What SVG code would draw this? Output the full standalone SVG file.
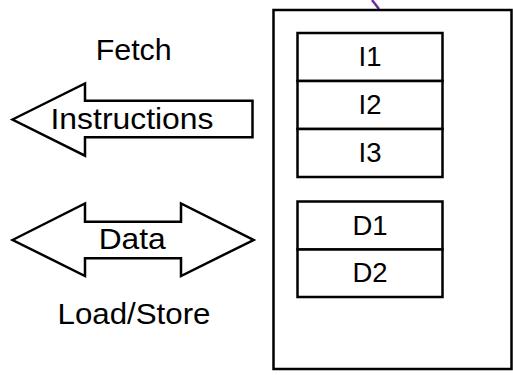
<svg xmlns="http://www.w3.org/2000/svg" width="513" height="375" viewBox="0 0 513 375">
<style>
.s{fill:#fff;stroke:#000;stroke-width:2.5;stroke-linejoin:miter}
.t{font-family:"Liberation Sans",Arial,Helvetica,sans-serif;fill:#000;text-anchor:middle}
.big{font-size:30px}
.cell{font-size:27.5px}
</style>
<rect width="513" height="375" fill="#fff"/>
<g id="connectors">
<line x1="372" y1="0" x2="379" y2="9" stroke="#6a2ca8" stroke-width="2.5"/>
</g>
<g id="memory">
<rect class="s" x="273.5" y="10" width="238" height="359"/>
</g>
<g id="I1"><rect class="s" x="297.5" y="33" width="145" height="48"/><text class="t cell" x="370" y="66">I1</text></g>
<g id="I2"><rect class="s" x="297.5" y="81" width="145" height="48"/><text class="t cell" x="370" y="114">I2</text></g>
<g id="I3"><rect class="s" x="297.5" y="129" width="145" height="48"/><text class="t cell" x="370" y="162">I3</text></g>
<g id="D1"><rect class="s" x="297.5" y="201.5" width="145" height="48"/><text class="t cell" x="370" y="234.5">D1</text></g>
<g id="D2"><rect class="s" x="297.5" y="249.5" width="145" height="47.5"/><text class="t cell" x="370" y="282">D2</text></g>
<g id="instructions">
<polygon class="s" points="12.5,119.5 85,83.5 85,100.7 252.5,100.7 252.5,137.3 85,137.3 85,155.7"/>
<text class="t big" x="132" y="128.5" textLength="163" lengthAdjust="spacingAndGlyphs">Instructions</text>
</g>
<g id="data">
<polygon class="s" points="12.5,240 85,203.5 85,221.7 181,221.7 181,203.5 253.5,240 181,276 181,258.3 85,258.3 85,276"/>
<text class="t big" x="132.2" y="248.5" textLength="67" lengthAdjust="spacingAndGlyphs">Data</text>
</g>
<g id="fetch"><text class="t big" x="133.7" y="59.5" textLength="76" lengthAdjust="spacingAndGlyphs">Fetch</text></g>
<g id="loadstore"><text class="t big" x="134" y="323.5" textLength="153" lengthAdjust="spacingAndGlyphs">Load/Store</text></g>
</svg>
